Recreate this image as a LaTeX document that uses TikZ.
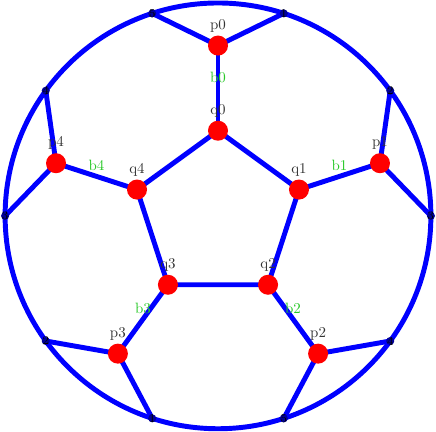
\documentclass[tikz,border=0pt]{standalone}
\usetikzlibrary{calc}
\definecolor{edgeblue}{RGB}{0,0,255}
\definecolor{lblgreen}{RGB}{40,200,40}
\tikzset{
  edge/.style={draw=edgeblue, line width=3.3pt},
  vert/.style={circle, fill=red, inner sep=0pt, minimum size=0.47cm, label={[text=black!80, inner sep=2pt]above:#1}},
  rim/.style={circle, fill=edgeblue!60!black, inner sep=0pt, minimum size=0.19cm},
  rimlbl/.style={font=\footnotesize, text=black, inner sep=0pt},
  blbl/.style={midway, above, text=lblgreen, inner sep=2pt}
}
\begin{document}
\begin{tikzpicture}
\useasboundingbox (-5.12,-5.07) rectangle (5.12,5.07);
\node[draw=edgeblue, line width=3.3pt, circle, minimum size=10cm, inner sep=0pt] (C) at (0,0) {};
% rim points
\foreach \i/\a in {0/0,1/36,2/72,3/108,4/144,5/180,6/216,7/252,8/288,9/324}{
  \coordinate (r\i) at (\a:5);
}
% q pentagon and p points
\foreach \i/\a in {0/90,1/18,2/-54,3/-126,4/162}{
  \coordinate (qc\i) at (\a:2);
  \coordinate (pc\i) at (\a:4);
}
% edges
\draw[edge] (qc0) -- (qc1) -- (qc2) -- (qc3) -- (qc4) -- cycle;
\draw[edge] (pc0) -- (r2); \draw[edge] (pc0) -- (r3);
\draw[edge] (pc1) -- (r0); \draw[edge] (pc1) -- (r1);
\draw[edge] (pc2) -- (r8); \draw[edge] (pc2) -- (r9);
\draw[edge] (pc3) -- (r6); \draw[edge] (pc3) -- (r7);
\draw[edge] (pc4) -- (r4); \draw[edge] (pc4) -- (r5);
\draw[edge] (pc0) -- node[blbl]{b0} (qc0);
\draw[edge] (pc1) -- node[blbl]{b1} (qc1);
\draw[edge] (pc2) -- node[blbl]{b2} (qc2);
\draw[edge] (pc3) -- node[blbl]{b3} (qc3);
\draw[edge] (pc4) -- node[blbl]{b4} (qc4);
% rim dots and numbers
\foreach \i/\t in {0/3,1/2,2/1,3/5,4/4,5/3,6/2,7/1,8/5,9/4}{
  \node[rim] (rd\i) at (r\i) {};
  \node[rimlbl] (rl\i) at (r\i) {\t};
}
% vertices
\foreach \i in {0,...,4}{
  \node[vert=q\i] (q\i) at (qc\i) {};
  \node[vert=p\i] (p\i) at (pc\i) {};
}
\end{tikzpicture}
\end{document}
